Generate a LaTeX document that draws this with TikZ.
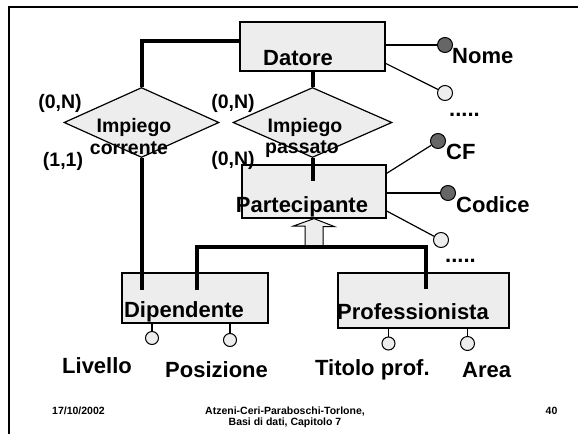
\documentclass[tikz,border=0pt]{standalone}
\usepackage{fontspec}
\setmainfont{Liberation Sans}
\usetikzlibrary{shapes.geometric}
\definecolor{boxgray}{HTML}{EDEDED}
\definecolor{keygray}{HTML}{666666}

\begin{document}
\begin{tikzpicture}[x=1pt,y=-1pt,
	ent/.style={draw,fill=boxgray,line width=1.2pt,inner sep=0pt},
	rel/.style={draw,fill=boxgray,diamond,line width=1.2pt,inner sep=0pt,minimum height=70pt},
	bigtxt/.style={font=\fontsize{22}{24}\selectfont\bfseries,inner sep=0pt},
	midtxt/.style={font=\fontsize{19.5}{22}\selectfont\bfseries,inner sep=0pt},
	foottxt/.style={font=\fontsize{10.5}{11}\selectfont\bfseries,inner sep=0pt},
	keyattr/.style={draw,circle,fill=keygray,line width=1pt,minimum size=15pt,inner sep=0pt},
	attr/.style={draw,circle,fill=boxgray,line width=1pt,minimum size=15pt,inner sep=0pt},
	link/.style={line width=4pt},
	attrline/.style={line width=1.2pt}]
	\useasboundingbox (0,0) rectangle (578,434);
	%Frame
	\draw[line width=1.2pt] (578,7) -- (9,7) -- (9,434);
	%Entities
	\node[ent,minimum width=145pt,minimum height=49pt] (datore) at (312.5,46.5) {};
	\node[ent,minimum width=144pt,minimum height=53pt] (part) at (314,191.5) {};
	\node[ent,minimum width=146pt,minimum height=50pt] (dip) at (195,298) {};
	\node[ent,minimum width=171pt,minimum height=55pt] (prof) at (423.5,300.5) {};
	%Relationships
	\node[rel,minimum width=155pt] (corrente) at (141.5,122.5) {};
	\node[rel,minimum width=159pt] (passato) at (312.5,122.5) {};
	\draw[link] (corrente.north) |- (datore.176);
	\draw[link,shorten >=8pt] (corrente.south) -- (corrente.south |- dip.center);
	\draw[link] (datore.south) -- (passato.north);
	\draw[link,shorten >=11pt] (passato.south) -- (passato.south |- part.center);
	%Generalization
	\coordinate (genL) at (197,247);
	\coordinate (genR) at (426,247);
	\coordinate (gen) at (part.south |- genL);
	\draw[line width=1pt,fill=boxgray] (gen) ++(-9,0) -- ++(0,-21) -- ++(-11.5,0) -- (part.south)
		-- ++(20.5,8) -- ++(-11.5,0) -- ++(0,21) -- cycle;
	\draw[link,shorten <=8pt,shorten >=12pt] (genL |- dip.center) -- (genL) -- (genR) -- (genR |- prof.center);
	%Attributes
	\node[keyattr] (nome) at (445,45) {};
	\node[attr] (datoreA) at (445,93) {};
	\node[keyattr] (cf) at (438,141) {};
	\node[keyattr] (codice) at (448,193) {};
	\node[attr] (partA) at (441,240) {};
	\node[attr,minimum size=13pt] (livello) at (152,338) {};
	\node[attr,minimum size=13pt] (posizione) at (230,340) {};
	\node[attr,minimum size=13pt] (titolo) at (388.5,343.5) {};
	\node[attr,minimum size=14pt] (area) at (467.5,343.5) {};
	\draw[attrline] (datore.east |- nome) -- (nome);
	\draw[attrline] (datore.-13) -- (datoreA);
	\draw[attrline] (part.14) -- (cf);
	\draw[attrline] (part.east |- codice) -- (codice);
	\draw[attrline] (part.-15) -- (partA);
	\draw[attrline] (livello) -- (livello |- dip.south);
	\draw[attrline] (posizione) -- (posizione |- dip.south);
	\draw[attrline] (titolo) -- (titolo |- prof.south);
	\draw[attrline] (area) -- (area |- prof.south);
	%Labels
	\node[bigtxt,anchor=base] (datoreT) at (298,65) {Datore};
	\node[bigtxt,anchor=base] (partT) at (302,212) {Partecipante};
	\node[bigtxt,anchor=base] (dipT) at (184,317) {Dipendente};
	\node[bigtxt,anchor=base] (profT) at (413,319) {Professionista};
	\node[midtxt,anchor=base] (correnteT1) at (134,132) {Impiego};
	\node[midtxt,anchor=base] (correnteT2) at (129,154) {corrente};
	\node[midtxt,anchor=base] (passatoT1) at (305,132) {Impiego};
	\node[midtxt,anchor=base] (passatoT2) at (302,153) {passato};
	\node[midtxt,anchor=base] (cardA) at (60,108) {(0,N)};
	\node[midtxt,anchor=base] (cardB) at (63,166) {(1,1)};
	\node[midtxt,anchor=base] (cardC) at (233,108) {(0,N)};
	\node[midtxt,anchor=base] (cardD) at (233,165) {(0,N)};
	\node[bigtxt,anchor=base west] (nomeT) at (452,63) {Nome};
	\node[bigtxt,anchor=base west] (datoreD) at (449,116) {.....};
	\node[bigtxt,anchor=base west] (cfT) at (446,159) {CF};
	\node[bigtxt,anchor=base west] (codiceT) at (456,212) {Codice};
	\node[bigtxt,anchor=base west] (partD) at (445,262) {.....};
	\node[bigtxt,anchor=base west] (livelloT) at (62,373) {Livello};
	\node[bigtxt,anchor=base west] (posizioneT) at (165,377) {Posizione};
	\node[bigtxt,anchor=base west] (titoloT) at (315,375) {Titolo prof.};
	\node[bigtxt,anchor=base west] (areaT) at (462,377) {Area};
	%Footer
	\node[foottxt,anchor=base west] (data) at (52,414) {17/10/2002};
	\node[foottxt,anchor=base] (autori) at (285,414) {Atzeni-Ceri-Paraboschi-Torlone,};
	\node[foottxt,anchor=base] (libro) at (285,425) {Basi di dati, Capitolo 7};
	\node[foottxt,anchor=base] (pagina) at (551.5,414) {40};
\end{tikzpicture}
\end{document}
